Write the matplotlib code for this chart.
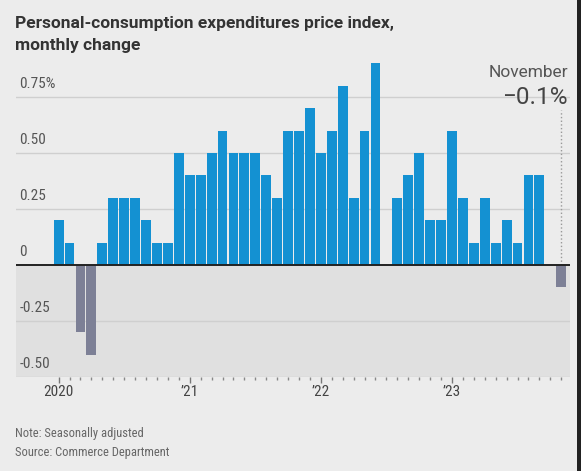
import matplotlib.pyplot as plt
import numpy as np
import pandas as pd

# monthly change in PCE price index, Jan 2020 - Nov 2023
months = pd.date_range('2020-01-01', '2023-11-01', freq='MS')
values = [0.2, 0.1, -0.3, -0.4, 0.1, 0.3, 0.3, 0.3, 0.2, 0.1, 0.1, 0.5,
          0.4, 0.4, 0.5, 0.6, 0.5, 0.5, 0.5, 0.4, 0.3, 0.6, 0.6, 0.7,
          0.5, 0.6, 0.8, 0.3, 0.6, 0.9, 0.0, 0.3, 0.4, 0.5, 0.2, 0.2,
          0.6, 0.3, 0.1, 0.3, 0.1, 0.2, 0.1, 0.4, 0.4, 0.0, -0.1]
ytick_vals = [-0.5, -0.25, 0, 0.25, 0.5, 0.75]
ytick_labels = ['-0.50', '-0.25', '0', '0.25', '0.50', '0.75%']
year_labels = ['2020', '\u201921', '\u201922', '\u201923']

plt.rcParams['font.family'] = ['Liberation Sans Narrow', 'Roboto Condensed',
                               'DejaVu Sans Condensed', 'Roboto', 'DejaVu Sans']

bg = '#ececec'
blue = '#1491d2'
neg = '#7d8096'

fig = plt.figure(figsize=(5.81, 4.71), dpi=100, facecolor=bg)
ax = fig.add_axes([16/581, 1-377/471, (570-16)/581, (377-51)/471])
ax.set_facecolor(bg)

x = np.arange(len(values))
vals = np.array(values)
colors = [blue if v >= 0 else neg for v in vals]
ax.axhspan(-0.5, 0, color='#e0e0e0', zorder=0, lw=0)
ax.bar(x, vals, width=0.9, color=colors, zorder=3)

ax.set_xlim(-3.9, len(values) - 0.2)
ax.set_ylim(-0.5, 0.955)

for v in ytick_vals:
    if v != 0:
        ax.axhline(v, color='#cfcfcf', lw=1, zorder=1)
ax.axhline(0, color='#222222', lw=1.4, zorder=4)
ax.set_yticks([])
for v, lab in zip(ytick_vals, ytick_labels):
    ax.text(-3.6, v + 0.025, lab, ha='left', va='bottom', fontsize=11,
            color='#555555', zorder=5)

# x ticks: minor every month, major at each January
year_pos = [i for i, m in enumerate(months) if m.month == 1]
ax.set_xticks(year_pos)
ax.set_xticklabels(year_labels, fontsize=11, color='#444444')
ax.set_xticks(x, minor=True)
ax.tick_params(axis='x', which='major', length=4, width=1, color='#777777', pad=2)
ax.tick_params(axis='x', which='minor', length=2, width=1, color='#888888')
for s in ax.spines.values():
    s.set_visible(False)

# latest value annotation
ann_font = ['Roboto', 'DejaVu Sans']
ax.text(len(values) - 0.4, 0.84, 'November', ha='right', va='baseline',
        fontsize=12.5, color='#555555', family=ann_font)
ax.text(len(values) - 0.4, 0.72, '\u22120.1%', ha='right', va='baseline',
        fontsize=17.5, color='#444444', family=ann_font, fontweight='normal')
ax.plot([x[-1], x[-1]], [0.0, 0.69], ls=':', color='#999999', lw=1, zorder=2)

title_font = ['Roboto', 'DejaVu Sans']
fig.text(15/581, 1-28/471, 'Personal-consumption expenditures price index,',
         fontsize=12.5, fontweight='bold', color='#333333', va='baseline',
         family=title_font)
fig.text(15/581, 1-50/471, 'monthly change', fontsize=12.5,
         fontweight='bold', color='#333333', va='baseline',
         family=title_font)
fig.text(15/581, 1-437/471, 'Note: Seasonally adjusted', fontsize=9,
         color='#666666', va='baseline')
fig.text(15/581, 1-456/471, 'Source: Commerce Department', fontsize=9,
         color='#666666', va='baseline')

# dark right border
fig.add_artist(plt.Rectangle((577/581, 0), 4/581, 1, transform=fig.transFigure,
                             color='#222222', lw=0))

fig.savefig('out.png', dpi=100, facecolor=bg)
